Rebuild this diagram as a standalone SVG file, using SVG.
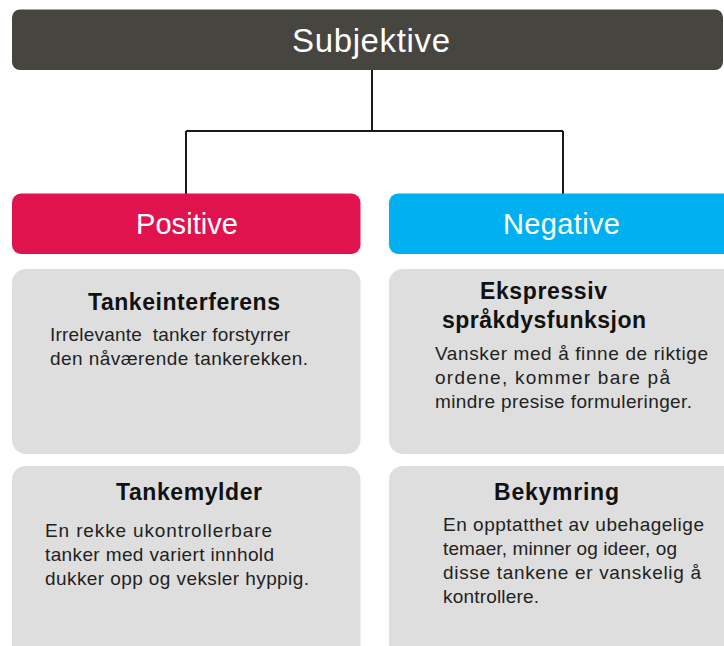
<svg xmlns="http://www.w3.org/2000/svg" width="724" height="646" viewBox="0 0 724 646">
<style>
.hdr{font-family:"Liberation Sans",Arial,sans-serif;fill:#fff;text-anchor:middle}
.ttl{font-family:"Liberation Sans",Arial,sans-serif;font-weight:bold;font-size:23px;fill:#111;text-anchor:middle}
.body{font-family:"Liberation Sans",Arial,sans-serif;font-size:19px;fill:#222;white-space:pre}
.card{fill:#dedede}
.conn{fill:none;stroke:#1a1a1a;stroke-width:2}
</style>
<rect width="724" height="646" fill="#fff"/>
<g id="connectors">
<path class="conn" d="M372 70 V131 M186 131 H563 M186 131 V194 M563 131 V194"/>
</g>
<g id="subjektive">
<rect x="12" y="9.5" width="711" height="60.5" rx="8" fill="#474540"/>
<text class="hdr" x="371" y="52" font-size="33" textLength="158">Subjektive</text>
</g>
<g id="positive">
<rect x="12" y="193.5" width="348.5" height="60.5" rx="9" fill="#e0134f"/>
<text class="hdr" x="187" y="234" font-size="29" textLength="102">Positive</text>
</g>
<g id="negative">
<rect x="389" y="193.5" width="350" height="60.5" rx="9" fill="#00b0f0"/>
<text class="hdr" x="561.5" y="234" font-size="29" textLength="117">Negative</text>
</g>
<g id="tankeinterferens">
<rect class="card" x="12" y="269" width="348.5" height="185" rx="14"/>
<text class="ttl" x="184" y="310" textLength="192">Tankeinterferens</text>
<text class="body" x="50" y="341" textLength="240">Irrelevante  tanker forstyrrer</text>
<text class="body" x="50" y="365" textLength="258">den nåværende tankerekken.</text>
</g>
<g id="ekspressiv">
<rect class="card" x="389" y="269" width="350" height="185" rx="14"/>
<text class="ttl" x="543.5" y="299" textLength="127">Ekspressiv</text>
<text class="ttl" x="544" y="328" textLength="204">språkdysfunksjon</text>
<text class="body" x="435" y="360" textLength="273">Vansker med å finne de riktige</text>
<text class="body" x="435" y="384" textLength="235">ordene, kommer bare på</text>
<text class="body" x="435" y="408" textLength="257">mindre presise formuleringer.</text>
</g>
<g id="tankemylder">
<rect class="card" x="12" y="466" width="348.5" height="200" rx="14"/>
<text class="ttl" x="189" y="500" textLength="146">Tankemylder</text>
<text class="body" x="45" y="537" textLength="227">En rekke ukontrollerbare</text>
<text class="body" x="45" y="561" textLength="229">tanker med variert innhold</text>
<text class="body" x="45" y="585" textLength="264">dukker opp og veksler hyppig.</text>
</g>
<g id="bekymring">
<rect class="card" x="389" y="466" width="350" height="200" rx="14"/>
<text class="ttl" x="556.5" y="500" textLength="125">Bekymring</text>
<text class="body" x="443" y="531" textLength="261">En opptatthet av ubehagelige</text>
<text class="body" x="443" y="555" textLength="234">temaer, minner og ideer, og</text>
<text class="body" x="443" y="579" textLength="258">disse tankene er vanskelig å</text>
<text class="body" x="443" y="603" textLength="96">kontrollere.</text>
</g>
</svg>
